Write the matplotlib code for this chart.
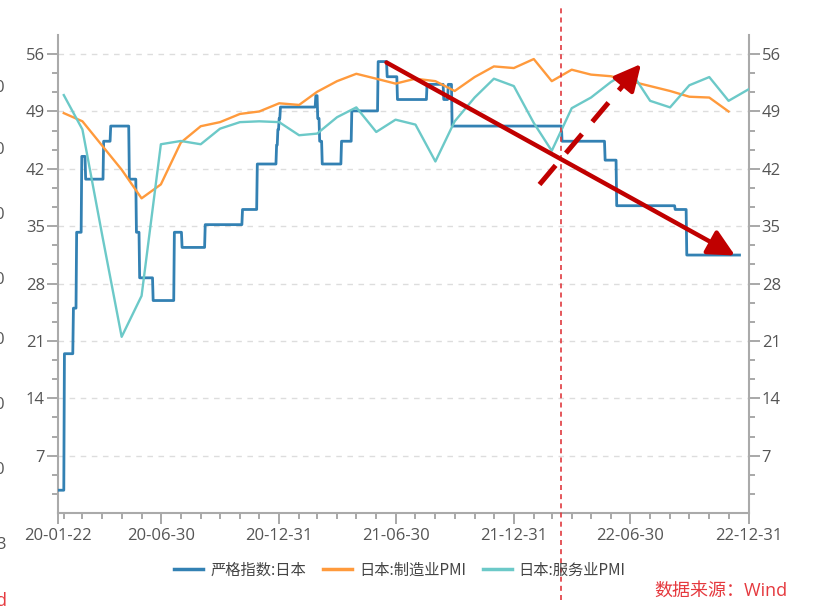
import matplotlib
matplotlib.use("Agg")
import matplotlib.pyplot as plt
import matplotlib.dates as mdates
from matplotlib.patches import FancyArrowPatch
from matplotlib.lines import Line2D
import pandas as pd
import numpy as np

plt.rcParams['font.family'] = ['Noto Sans CJK SC', 'DejaVu Sans']
TICK_FONT = ['Open Sans', 'Noto Sans CJK SC', 'DejaVu Sans']

# ---------------- data ----------------
# Stringency index (Japan): change points (date, value), forward-filled daily
stringency_dates = ['2020-01-22', '2020-02-01', '2020-02-15', '2020-02-20', '2020-02-28',
                    '2020-03-05', '2020-04-02', '2020-04-13', '2020-05-12', '2020-05-23',
                    '2020-05-28', '2020-06-18', '2020-07-21', '2020-08-02', '2020-09-07',
                    '2020-11-04', '2020-11-27', '2020-12-27', '2020-12-29', '2020-12-31',
                    '2021-01-02', '2021-02-26', '2021-03-01', '2021-03-04', '2021-03-08',
                    '2021-04-07', '2021-04-23', '2021-06-03', '2021-06-17', '2021-07-03',
                    '2021-08-18', '2021-09-13', '2021-09-20', '2021-09-26', '2022-03-16',
                    '2022-05-22', '2022-06-09', '2022-09-08', '2022-09-26']
stringency_values = [2.78, 19.44, 25.0, 34.26, 43.52,
                     40.74, 45.37, 47.22, 40.74, 34.26,
                     28.70, 25.93, 34.26, 32.41, 35.19,
                     37.04, 42.59, 44.90, 46.80, 48.15,
                     49.54, 50.93, 48.15, 45.37, 42.59,
                     45.37, 49.07, 55.09, 53.24, 50.46,
                     52.31, 50.46, 52.31, 47.22, 45.37,
                     43.06, 37.50, 37.04, 31.48]
stringency_end = '2022-12-17'

# Manufacturing PMI, monthly Jan-2020 .. Nov-2022
mfg_pmi = [48.8, 47.8, 44.8, 41.9, 38.4, 40.1, 45.2, 47.2, 47.7, 48.7, 49.0, 50.0,
           49.8, 51.4, 52.7, 53.6, 53.0, 52.4, 53.0, 52.7, 51.5, 53.2, 54.5, 54.3,
           55.4, 52.7, 54.1, 53.5, 53.3, 52.7, 52.1, 51.5, 50.8, 50.7, 49.0]
# Services PMI, monthly Jan-2020 .. Dec-2022
svc_pmi = [51.0, 46.8, 33.8, 21.5, 26.5, 45.0, 45.4, 45.0, 46.9, 47.7, 47.8, 47.7,
           46.1, 46.3, 48.3, 49.5, 46.5, 48.0, 47.4, 42.9, 47.8, 50.7, 53.0, 52.1,
           47.6, 44.2, 49.4, 50.7, 52.6, 54.0, 50.3, 49.5, 52.2, 53.2, 50.3, 51.7]

series_names = ['严格指数:日本', '日本:制造业PMI', '日本:服务业PMI']
x_tick_labels = ['20-01-22', '20-06-30', '20-12-31', '21-06-30', '21-12-31', '22-06-30', '22-12-31']
x_tick_dates = ['2020-01-22', '2020-06-30', '2020-12-31', '2021-06-30', '2021-12-31', '2022-06-30', '2022-12-31']
y_ticks = [7, 14, 21, 28, 35, 42, 49, 56]
marker_date = '2022-03-15'
source_text = '数据来源：Wind'

# ---------------- build series ----------------
s = pd.Series(stringency_values, index=pd.to_datetime(stringency_dates))
daily_idx = pd.date_range(stringency_dates[0], stringency_end, freq='D')
s = s.reindex(daily_idx).ffill()

mfg_dates = pd.date_range('2020-01-31', periods=len(mfg_pmi), freq='ME')
svc_dates = pd.date_range('2020-01-31', periods=len(svc_pmi), freq='ME')

# ---------------- figure ----------------
W, H = 817, 615
fig = plt.figure(figsize=(W / 100, H / 100), dpi=100)
ax = fig.add_axes([58 / W, 1 - 513 / H, (748.5 - 58) / W, (513 - 35) / H])

c_blue = '#3381B3'
c_orange = '#FF9A3C'
c_teal = '#6CC9C8'

ax.plot(s.index, s.values, color=c_blue, lw=2.0, label=series_names[0], zorder=3)
ax.plot(mfg_dates, mfg_pmi, color=c_orange, lw=1.7, label=series_names[1], zorder=3)
ax.plot(svc_dates, svc_pmi, color=c_teal, lw=1.7, label=series_names[2], zorder=3)

ax.set_xlim(pd.Timestamp('2020-01-22'), pd.Timestamp('2022-12-31'))
ax.set_ylim(0, 58.3333)

# y ticks
ax.set_yticks(y_ticks)
ax.set_yticklabels([str(v) for v in y_ticks])
minor_y = [i * 7 / 3 for i in range(1, 25) if i % 3 != 0]
ax.set_yticks(minor_y, minor=True)
ax.yaxis.set_ticks_position('both')
ax.tick_params(axis='y', which='both', labelleft=True, labelright=True, direction='out',
               colors='#999999', labelcolor='#555555', labelsize=12, pad=1.5)
ax.tick_params(axis='y', which='major', length=8, width=1.2)
ax.tick_params(axis='y', which='minor', length=4.5, width=1.2)

# x ticks
ax.set_xticks(pd.to_datetime(x_tick_dates))
ax.set_xticklabels(x_tick_labels)
month_ends = pd.date_range('2020-01-31', '2022-12-31', freq='ME')
ax.set_xticks(month_ends, minor=True)
ax.tick_params(axis='x', which='both', direction='out', colors='#999999',
               labelcolor='#555555', labelsize=12, pad=3)
ax.tick_params(axis='x', which='major', length=8, width=1.2)
ax.tick_params(axis='x', which='minor', length=4.5, width=1.2)

for lab in ax.get_xticklabels() + ax.get_yticklabels() + ax.yaxis.get_ticklabels(which='major'):
    lab.set_family(TICK_FONT)
for t in ax.yaxis.get_major_ticks():
    t.label2.set_family(TICK_FONT)
    t.label1.set_family(TICK_FONT)

# grid
for v in y_ticks:
    ax.axhline(v, color='#dddddd', lw=1.0, ls=(0, (4, 4)), zorder=1)

for side in ['left', 'right', 'bottom']:
    ax.spines[side].set_color('#aaaaaa')
    ax.spines[side].set_linewidth(1.5)
ax.spines['top'].set_visible(False)

# vertical red dashed marker
ax.axvline(pd.Timestamp(marker_date), ymin=(513 - 600) / 478, ymax=(513 - 8) / 478,
           color='#E0393E', lw=1.2, ls=(0, (3, 2.5)), clip_on=False, zorder=5)

# legend
leg = fig.legend(loc='center', bbox_to_anchor=(400 / W, 1 - 570 / H), ncol=3, frameon=False,
                 fontsize=11, handlelength=1.9, handletextpad=0.45, columnspacing=1.1)
for t in leg.get_texts():
    t.set_color('#444444')
for l in leg.get_lines():
    l.set_linewidth(2.5)

# source text
fig.text(787 / W, 1 - 591 / H, source_text, ha='right', va='center', color='#E5393E',
         fontsize=13, family=TICK_FONT)

# cut-off fragments at the left edge
for yy in [88, 150, 215, 280, 340, 405, 470]:
    fig.text(4 / W, 1 - yy / H, '0', ha='right', va='center', color='#555555', fontsize=12,
             family=TICK_FONT)
fig.text(6 / W, 1 - 545 / H, '3', ha='right', va='center', color='#555555', fontsize=12,
         family=TICK_FONT)
fig.text(7 / W, 1 - 601 / H, 'd', ha='right', va='center', color='#E5393E', fontsize=13,
         family=TICK_FONT)


def P(x, y):
    return (x / W, 1 - y / H)


red = '#C00000'
# solid arrow
arr = FancyArrowPatch(P(386.5, 62.5), P(735, 255.5), transform=fig.transFigure,
                      arrowstyle='-|>,head_length=0.4,head_width=0.2', mutation_scale=40,
                      lw=3.2, color=red, shrinkA=0, shrinkB=0, zorder=10)
fig.patches.append(arr)

# dashed arrow with solid head
x0, y0 = 539.5, 184.5
x1, y1 = 641, 64
L = np.hypot(x1 - x0, y1 - y0)
ux, uy = (x1 - x0) / L, (y1 - y0) / L
xb, yb = x1 - ux * 24, y1 - uy * 24
line = Line2D([P(x0, y0)[0], P(xb, yb)[0]], [P(x0, y0)[1], P(xb, yb)[1]],
              transform=fig.transFigure, color=red, lw=3.6, ls=(0, (5.0, 3.2)),
              solid_capstyle='butt', dash_capstyle='butt', zorder=10)
fig.lines.append(line)
head = FancyArrowPatch(P(xb - ux * 2, yb - uy * 2), P(x1, y1), transform=fig.transFigure,
                       arrowstyle='-|>,head_length=0.4,head_width=0.2', mutation_scale=40,
                       lw=3.2, color=red, shrinkA=0, shrinkB=0, zorder=10)
fig.patches.append(head)

fig.savefig('out.png', dpi=100)
